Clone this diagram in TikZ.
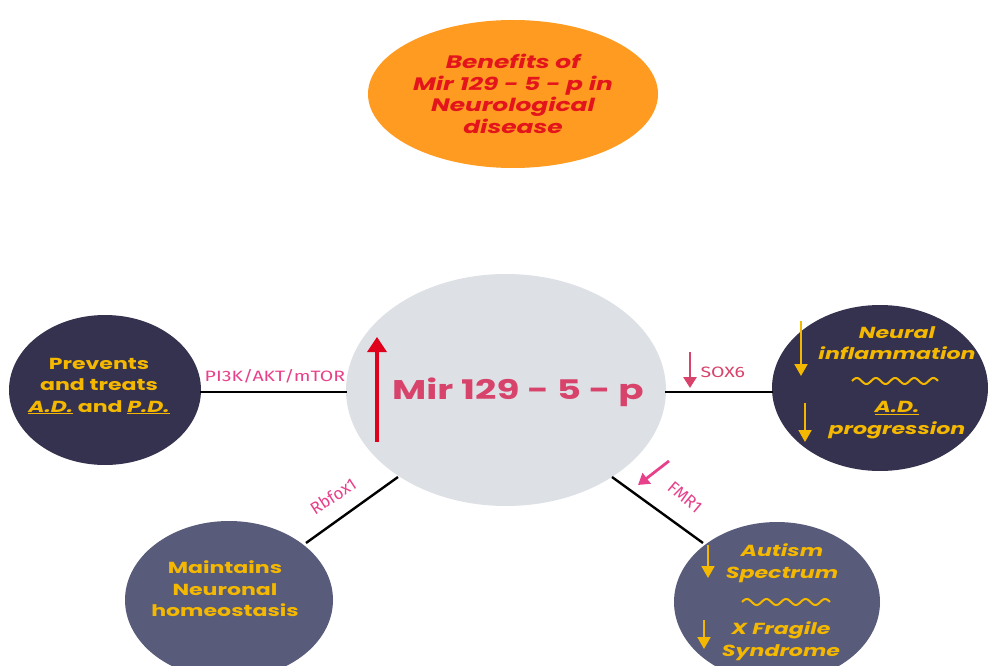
\documentclass[tikz,border=0pt]{standalone}
\usepackage{fontspec}
\usetikzlibrary{shapes.geometric,arrows.meta}
\newfontfamily\pop{Poppins}[FakeStretch=1.38]
\newfontfamily\fira{Fira Sans}[FakeStretch=1.3]
\newfontfamily\firaplain{Fira Sans}
\definecolor{orangeF}{HTML}{FF9B21}
\definecolor{navyF}{HTML}{34324E}
\definecolor{slateF}{HTML}{585C7A}
\definecolor{greyF}{HTML}{DDE0E5}
\definecolor{goldT}{HTML}{F5B800}
\definecolor{pinkL}{HTML}{E8418B}
\definecolor{rosemir}{HTML}{D7436B}
\definecolor{redA}{HTML}{E0001B}
\definecolor{redT}{HTML}{E3141B}
\begin{document}
\begin{tikzpicture}[x=1pt,y=-1pt,
  blob/.style={ellipse,draw=none,inner sep=0pt},
  goldtxt/.style={text=goldT,font=\pop\bfseries\fontsize{16}{21.5}\selectfont,align=center},
  goldit/.style={text=goldT,font=\pop\bfseries\itshape\fontsize{16}{21.5}\selectfont,align=center},
  lbl/.style={font=\fira\fontsize{15}{18}\selectfont},
  rlbl/.style={font=\firaplain\fontsize{17}{20}\selectfont},
  link/.style={draw=black,line width=2.4pt},
  garrow/.style={draw=goldT,line width=2pt,-{Triangle[width=13pt,length=12pt]}},
  parrow/.style={draw=#1,line width=2.8pt,-{Triangle[width=13pt,length=11pt]}},
  wave/.style={draw=goldT,line width=2pt}
]
\useasboundingbox (0,0) rectangle (989,666);
\fill[white] (0,0) rectangle (989,666);

% nodes
\node[blob,fill=orangeF,minimum width=290pt,minimum height=148pt,
  text=redT,font=\pop\bfseries\itshape\fontsize{18}{21.5}\selectfont,align=center]
  (title) at (513,94) {Benefits of\\Mir 129 - 5 - p in\\Neurological\\disease};
\node[blob,fill=greyF,minimum width=320pt,minimum height=232pt] (mir) at (506,390) {};
\node[text=rosemir,font=\pop\bfseries\fontsize{27}{30}\selectfont] (mirtxt) at (518,392) {Mir 129 - 5 - p};
\node[blob,fill=navyF,minimum width=192pt,minimum height=150pt] (left) at (105,390) {};
\node[goldtxt] (lefttxt) at (99,386)
  {Prevents\\and treats\\{\itshape\underline{A.D.}} and {\itshape\underline{P.D.}}};
\node[blob,fill=navyF,minimum width=216pt,minimum height=166pt] (right) at (880,388) {};
\node[blob,fill=slateF,minimum width=208pt,minimum height=158pt] (bl) at (229,600) {};
\node[goldtxt] (bltxt) at (225,589) {Maintains\\Neuronal\\homeostasis};
\node[blob,fill=slateF,minimum width=206pt,minimum height=160pt] (br) at (777,602) {};

% central arrow
\coordinate (upa) at (377,442);
\coordinate (upb) at (377,337);
\draw[draw=redA,line width=3.2pt,-{Triangle[width=19pt,length=15pt]}] (upa) -- (upb);

% connectors
\coordinate (la) at (200,392);
\coordinate (lb) at (347,392);
\draw[link] (la) -- (lb);
\node[lbl,text=pinkL] (pi3k) at (275,376) {PI3K/AKT/mTOR};

\coordinate (ra) at (665,392);
\coordinate (rb) at (773,392);
\draw[link] (ra) -- (rb);
\node[lbl,text=rosemir,anchor=west] (sox) at (697,372) {SOX6};
\coordinate (sa) at (690,352);
\coordinate (sb) at (690,388);
\draw[parrow=rosemir] (sa) -- (sb);

\coordinate (ba) at (398,477);
\coordinate (bb) at (306,543);
\draw[link] (ba) -- (bb);
\node[rlbl,text=pinkL,rotate=33] (rbf) at (333,496) {Rbfox1};

\coordinate (fa) at (612,477);
\coordinate (fb) at (703,543);
\draw[link] (fa) -- (fb);
\node[rlbl,text=pinkL,rotate=-40] (fmr) at (685,497) {FMR1};
\coordinate (fpa) at (669,461);
\coordinate (fpb) at (638,485);
\draw[parrow=pinkL] (fpa) -- (fpb);

% right blob contents
\node[goldit] (neur) at (897,343) {Neural\\inflammation};
\draw[wave,domain=0:86,samples=120,smooth] plot ({852+\x},{381-3*sin(\x*18.8)});
\node[goldit] (adp) at (897,420) {\underline{A.D.}\\progression};
\coordinate (r1a) at (801,321);
\coordinate (r1b) at (801,376);
\draw[garrow] (r1a) -- (r1b);
\coordinate (r2a) at (805,403);
\coordinate (r2b) at (805,442);
\draw[garrow] (r2a) -- (r2b);

% bottom-right contents
\node[goldit] (aut) at (782,563) {Autism\\Spectrum};
\draw[wave,domain=0:88,samples=120,smooth] plot ({742+\x},{602-3*sin(\x*18.4)});
\node[goldit] (xfs) at (781,641) {X Fragile\\Syndrome};
\coordinate (b1a) at (708,545);
\coordinate (b1b) at (708,578);
\draw[garrow] (b1a) -- (b1b);
\coordinate (b2a) at (704,620);
\coordinate (b2b) at (704,649);
\draw[garrow] (b2a) -- (b2b);
\end{tikzpicture}
\end{document}
